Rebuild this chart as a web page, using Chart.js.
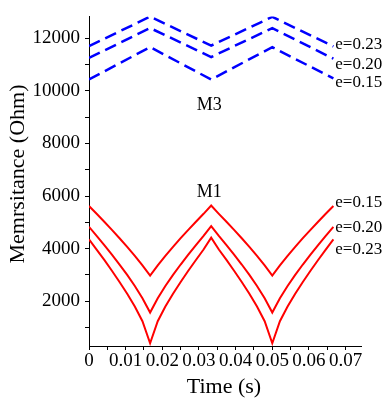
<!DOCTYPE html>
<html>
<head>
<meta charset="utf-8">
<script src="https://cdn.jsdelivr.net/npm/chart.js"></script>
<style>
  body { margin: 0; background: #fff; }
  #wrap { width: 392px; height: 404px; }
</style>
</head>
<body>
<div id="wrap"><canvas id="chart" width="392" height="404"></canvas></div>
<script>
// time samples (s)
const timeRed = [
  0, 0.00208, 0.00417, 0.00625, 0.00833, 0.01042, 0.0125, 0.01458, 0.01667,
  0.01875, 0.02083, 0.02292, 0.025, 0.02708, 0.02917, 0.03125, 0.03333,
  0.03542, 0.0375, 0.03958, 0.04167, 0.04375, 0.04583, 0.04792, 0.05,
  0.05208, 0.05417, 0.05625, 0.05833, 0.06042, 0.0625, 0.06458, 0.06667
];
const timeBlue = [0, 0.01667, 0.03333, 0.05, 0.06667];

// M1 (red)
const m1e015 = [
  5620, 5325, 5025, 4716, 4398, 4068, 3726, 3364, 2977,
  3364, 3726, 4068, 4398, 4716, 5025, 5325, 5640,
  5325, 5025, 4716, 4398, 4068, 3726, 3364, 2977,
  3364, 3726, 4068, 4398, 4716, 5025, 5325, 5620
];
const m1e020 = [
  4831, 4488, 4137, 3774, 3397, 3001, 2579, 2116, 1571,
  2116, 2579, 3001, 3397, 3774, 4137, 4488, 4860,
  4488, 4137, 3774, 3397, 3001, 2579, 2116, 1571,
  2116, 2579, 3001, 3397, 3774, 4137, 4488, 4830
];
const m1e023 = [
  4353, 3967, 3571, 3161, 2735, 2286, 1799, 1242, 406,
  1242, 1799, 2286, 2735, 3161, 3571, 3967, 4420,
  3967, 3571, 3161, 2735, 2286, 1799, 1242, 406,
  1242, 1799, 2286, 2735, 3161, 3571, 3967, 4350
];

// M3 (blue, dashed)
const m3e023 = [11700, 12820, 11720, 12812, 11690];
const m3e020 = [11250, 12387, 11285, 12387, 11222];
const m3e015 = [10432, 11662, 10432, 11662, 10470];

// ticks
const xTickValues = [0, 0.005, 0.01, 0.015, 0.02, 0.025, 0.03, 0.035, 0.04, 0.045, 0.05, 0.055, 0.06, 0.065, 0.07];
const xTickLabels = ["0", "", "0.01", "", "0.02", "", "0.03", "", "0.04", "", "0.05", "", "0.06", "", "0.07"];
const yTickValues = [1000, 2000, 3000, 4000, 5000, 6000, 7000, 8000, 9000, 10000, 11000, 12000];
const yTickLabels = ["", "2000", "", "4000", "", "6000", "", "8000", "", "10000", "", "12000"];

// curve labels [text, t, value]
const curveLabels = [
  ["e=0.23", 0.06718, 11765],
  ["e=0.20", 0.06718, 11013],
  ["e=0.15", 0.06718, 10298],
  ["e=0.15", 0.06718, 5745],
  ["e=0.20", 0.06718, 4804],
  ["e=0.23", 0.06718, 3976]
];
const groupLabels = [
  ["M3", 0.02937, 9470],
  ["M1", 0.02937, 6159]
];

const serif = "'Liberation Serif', 'Times New Roman', serif";

function toPoints(xs, ys) {
  return xs.map((x, i) => ({ x: x, y: ys[i] }));
}

function redLine(values) {
  return {
    data: toPoints(timeRed, values),
    borderColor: "#ff0000",
    borderWidth: 2,
    pointRadius: 0,
    tension: 0,
    fill: false,
  };
}

function blueLine(values) {
  return {
    data: toPoints(timeBlue, values),
    borderColor: "#0000ff",
    borderWidth: 2.5,
    borderDash: [12, 6],
    pointRadius: 0,
    tension: 0,
    fill: false,
  };
}

const textPlugin = {
  id: "texts",
  afterDraw(chart) {
    const { ctx, scales } = chart;
    const x = scales.x, y = scales.y;
    ctx.save();
    ctx.fillStyle = "#000";
    ctx.textBaseline = "middle";
    ctx.textAlign = "left";
    ctx.font = "17px " + serif;
    curveLabels.forEach(([t, tx, v]) => {
      ctx.fillText(t, x.getPixelForValue(tx), y.getPixelForValue(v));
    });
    ctx.font = "18px " + serif;
    groupLabels.forEach(([t, tx, v]) => {
      ctx.fillText(t, x.getPixelForValue(tx), y.getPixelForValue(v));
    });

    // axis titles
    ctx.font = "22px " + serif;
    ctx.textAlign = "center";
    ctx.fillText("Time (s)", 224, 387);
    ctx.translate(18, 174);
    ctx.rotate(-Math.PI / 2);
    ctx.fillText("Memrsitance (Ohm)", 0, 0);
    ctx.restore();
  },
};

new Chart(document.getElementById("chart"), {
  type: "line",
  data: {
    datasets: [
      blueLine(m3e023),
      blueLine(m3e020),
      blueLine(m3e015),
      redLine(m1e015),
      redLine(m1e020),
      redLine(m1e023),
    ],
  },
  options: {
    responsive: false,
    animation: false,
    events: [],
    layout: { padding: { top: 13, right: 31, left: 0, bottom: 0 } },
    plugins: {
      legend: { display: false },
      tooltip: { enabled: false },
    },
    scales: {
      x: {
        type: "linear",
        min: 0,
        max: 0.0742,
        afterFit: (scale) => { scale.height = 58; },
        afterBuildTicks: (scale) => {
          scale.ticks = xTickValues.map((v) => ({ value: v }));
        },
        grid: {
          drawOnChartArea: false,
          drawTicks: true,
          tickLength: 4,
          color: "#000",
        },
        border: { display: true, color: "#000", width: 1 },
        ticks: {
          autoSkip: false,
          maxRotation: 0,
          padding: 0,
          color: "#000",
          font: { family: serif, size: 19 },
          callback: (value, index) => xTickLabels[index],
        },
      },
      y: {
        type: "linear",
        min: 300,
        max: 12830,
        afterFit: (scale) => { scale.width = 89; },
        afterBuildTicks: (scale) => {
          scale.ticks = yTickValues.map((v) => ({ value: v }));
        },
        grid: {
          drawOnChartArea: false,
          drawTicks: true,
          tickLength: 4,
          color: "#000",
        },
        border: { display: true, color: "#000", width: 1 },
        ticks: {
          padding: 5,
          color: "#000",
          font: { family: serif, size: 19 },
          callback: (value, index) => yTickLabels[index],
        },
      },
    },
  },
  plugins: [textPlugin],
});
</script>
</body>
</html>
